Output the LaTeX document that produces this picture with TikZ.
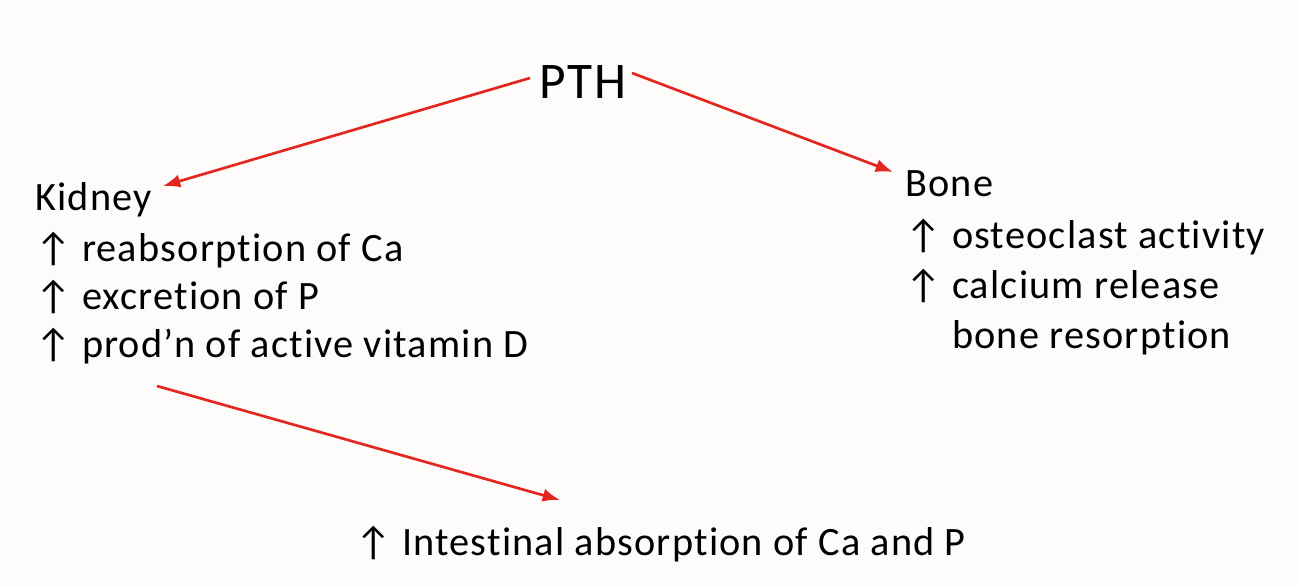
\documentclass[tikz,border=0pt]{standalone}
\usepackage{fontspec}
\setmainfont[Ligatures=NoCommon,LetterSpace=3]{Carlito}
\usetikzlibrary{arrows.meta}
\definecolor{paper}{RGB}{253,252,250}
\definecolor{arrowred}{RGB}{228,38,33}
\tikzset{
  txt/.style={anchor=base west,inner sep=0pt,font=\fontsize{30.2}{36}\selectfont},
  link/.style={draw=arrowred,line width=2pt,-{Latex[length=13pt,width=10pt]}}
}
\begin{document}
\begin{tikzpicture}[x=0.75pt,y=0.75pt,yscale=-1,xscale=1]
% page
\fill[paper] (0,0) rectangle (1298,586);
\useasboundingbox (0,0) rectangle (1298,586);

% Text Node
\node (pth) at (583,82) [inner sep=0pt,font=\fontsize{38.5}{46}\selectfont] {PTH};
% Kidney block
\node (kidney) at (35,210) [txt] {Kidney};
\node (kid1) at (35,261) [txt] {↑ reabsorption of Ca};
\node (kid2) at (35,309) [txt] {↑ excretion of P};
\node (kid3) at (35,357) [txt] {↑ prod’n of active vitamin D};
% Bone block
\node (bone) at (905,196) [txt] {Bone};
\node (bone1) at (905,248) [txt] {↑ osteoclast activity};
\node (bone2) at (905,298) [txt] {↑ calcium release};
\node (bone3) at (905,348) [txt] {\phantom{↑} bone resorption};
% Intestine
\node (gut) at (355,555) [txt] {↑ Intestinal absorption of Ca and P};

% arrow ends
\coordinate (pthL) at (530,78);
\coordinate (pthR) at (632,73);
\coordinate (kidIn) at (163,186);
\coordinate (boneIn) at (893,172);
\coordinate (kidOut) at (157,386);
\coordinate (gutIn) at (560,500);

\draw[link] (pthL) -- (kidIn);
\draw[link] (pthR) -- (boneIn);
\draw[link] (kidOut) -- (gutIn);
\end{tikzpicture}
\end{document}
